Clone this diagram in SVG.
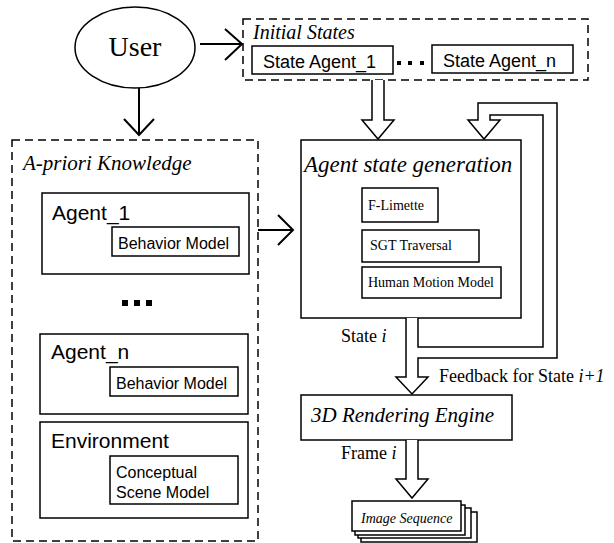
<svg xmlns="http://www.w3.org/2000/svg" width="614" height="543" viewBox="0 0 614 543">
<style>
.box{fill:#fff;stroke:#000;stroke-width:1.5}
.dash{fill:none;stroke:#000;stroke-width:1.5;stroke-dasharray:8 5}
.hollow{fill:#fff;stroke:#000;stroke-width:1.5;stroke-linejoin:miter}
.open{fill:none;stroke:#000;stroke-width:2}
.serif{font-family:"Liberation Serif","Times New Roman",serif;fill:#000}
.sans{font-family:"Liberation Sans",Arial,sans-serif;fill:#000}
.it{font-style:italic}
</style>
<rect width="614" height="543" fill="#fff"/>

<g id="user">
<ellipse cx="135" cy="47.5" rx="60" ry="40.5" class="box"/>
<text x="135" y="56" class="serif" font-size="28" text-anchor="middle">User</text>
</g>

<g id="initial-states">
<rect x="243" y="19" width="345" height="61" class="dash"/>
<text x="253" y="39" class="serif it" font-size="20">Initial States</text>
<g id="state-agent-1">
<rect x="252" y="46" width="141" height="28" class="box"/>
<text x="263" y="68" class="sans" font-size="18">State Agent_1</text>
</g>
<g id="state-dots">
<rect x="397" y="61" width="4" height="4"/>
<rect x="408" y="61" width="4" height="4"/>
<rect x="420" y="61" width="4" height="4"/>
</g>
<g id="state-agent-n">
<rect x="432" y="45" width="141" height="28" class="box"/>
<text x="443" y="67" class="sans" font-size="18">State Agent_n</text>
</g>
</g>

<g id="apriori">
<rect x="12" y="140" width="246" height="401" class="dash"/>
<text x="23" y="170" class="serif it" font-size="21">A-priori Knowledge</text>
<g id="agent-1">
<rect x="42" y="193" width="207" height="81" class="box"/>
<text x="52" y="220" class="sans" font-size="21">Agent_1</text>
<rect x="112" y="227" width="127" height="29" class="box"/>
<text x="118" y="249" class="sans" font-size="16">Behavior Model</text>
</g>
<g id="agent-dots">
<rect x="122" y="300" width="6" height="6"/>
<rect x="134" y="300" width="6" height="6"/>
<rect x="146" y="300" width="6" height="6"/>
</g>
<g id="agent-n">
<rect x="40" y="334" width="208" height="80" class="box"/>
<text x="51" y="359" class="sans" font-size="21">Agent_n</text>
<rect x="110" y="367" width="128" height="29" class="box"/>
<text x="116" y="389" class="sans" font-size="16">Behavior Model</text>
</g>
<g id="environment">
<rect x="40" y="422" width="208" height="96" class="box"/>
<text x="51" y="448" class="sans" font-size="21">Environment</text>
<rect x="110" y="456" width="128" height="48" class="box"/>
<text x="116" y="478" class="sans" font-size="16">Conceptual</text>
<text x="116" y="498" class="sans" font-size="16">Scene Model</text>
</g>
</g>

<g id="agent-state-generation">
<rect x="301" y="140" width="220" height="178" class="box"/>
<text x="304" y="172" class="serif it" font-size="23">Agent state generation</text>
<g id="f-limette">
<rect x="362" y="188" width="76" height="34" class="box"/>
<text x="368" y="210" class="serif" font-size="14">F-Limette</text>
</g>
<g id="sgt">
<rect x="362" y="230" width="117" height="32" class="box"/>
<text x="370" y="250" class="serif" font-size="14">SGT Traversal</text>
</g>
<g id="hmm">
<rect x="362" y="267" width="139" height="31" class="box"/>
<text x="368" y="287" class="serif" font-size="14">Human Motion Model</text>
</g>
</g>

<g id="rendering">
<rect x="301" y="395" width="211" height="45" class="box"/>
<text x="311" y="422" class="serif it" font-size="21">3D Rendering Engine</text>
</g>

<g id="image-sequence">
<rect x="361" y="512" width="116" height="30" class="box"/>
<rect x="358" y="508" width="113" height="30" class="box"/>
<rect x="355" y="505" width="110" height="30" class="box"/>
<rect x="352" y="501" width="109" height="30" class="box"/>
<text x="361" y="523" class="serif it" font-size="14">Image Sequence</text>
</g>

<g id="connectors">
<path class="open" d="M200,44 H242 M225,29 L242,44 L225,60"/>
<path class="open" d="M139,88 V135 M124,119 L139,135 L154,119"/>
<path class="open" d="M258,230 H293 M278,215 L293,230 L278,245"/>
<path class="hollow" d="M372,80 V120 H362 L378,139 L394,120 H384 V80"/>
<path class="hollow" d="M418,318 V347 H543 V115 H490 V120 H500 L484,139 L468,120 H478 V103 H557 V358 H418 V377 H428 L412,394 L396,377 H406 V318"/>
<path class="hollow" d="M406,440 V479 H396 L412,498 L428,479 H418 V440"/>
<text x="341" y="342" class="serif" font-size="18">State <tspan class="it">i</tspan></text>
<text x="439" y="382" class="serif" font-size="18">Feedback for State <tspan class="it">i+1</tspan></text>
<text x="341" y="459" class="serif" font-size="18">Frame <tspan class="it">i</tspan></text>
</g>
</svg>
